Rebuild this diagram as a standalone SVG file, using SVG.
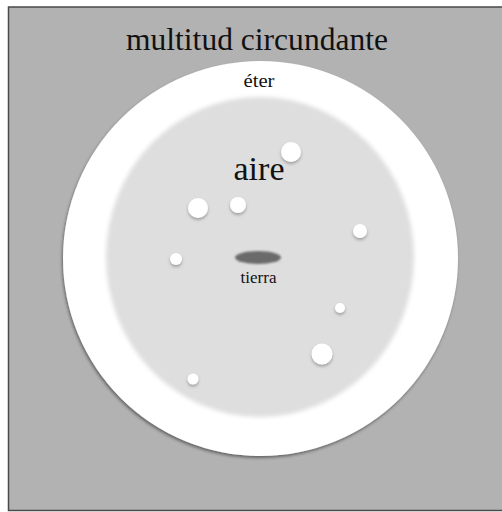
<svg xmlns="http://www.w3.org/2000/svg" width="502" height="512" viewBox="0 0 502 512">
  <defs>
    <filter id="outerShadow" x="-10%" y="-10%" width="120%" height="120%">
      <feDropShadow dx="-1" dy="2" stdDeviation="1.5" flood-color="#333" flood-opacity="0.6"/>
    </filter>
    <filter id="softEdge" x="-10%" y="-10%" width="120%" height="120%">
      <feGaussianBlur stdDeviation="2"/>
    </filter>
    <filter id="blobShadow" x="-50%" y="-50%" width="200%" height="200%">
      <feGaussianBlur in="SourceGraphic" stdDeviation="0.6" result="b"/>
      <feDropShadow in="b" dx="0" dy="2" stdDeviation="1.5" flood-color="#555" flood-opacity="0.45"/>
    </filter>
    <filter id="earthBlur" x="-20%" y="-50%" width="140%" height="200%">
      <feGaussianBlur stdDeviation="1.2"/>
    </filter>
  </defs>
  <style>
    text { font-family: "Liberation Serif", serif; fill: #111; text-anchor: middle; }
    .blob { fill: #ffffff; filter: url(#blobShadow); }
  </style>

  <rect x="0" y="0" width="502" height="512" fill="#ffffff"/>
  <g id="frame">
    <rect x="8.5" y="7" width="500" height="503.5" fill="#b2b2b2" stroke="#4a4a4a" stroke-width="1.5"/>
  </g>

  <g id="multitud">
    <text x="257" y="50" font-size="31" textLength="262" lengthAdjust="spacingAndGlyphs">multitud circundante</text>
  </g>

  <g id="eter">
    <circle cx="260.5" cy="258.5" r="197.5" fill="#ffffff" filter="url(#outerShadow)"/>
    <text x="259" y="86.5" font-size="18" textLength="31" lengthAdjust="spacingAndGlyphs">éter</text>
  </g>

  <g id="aire">
    <ellipse cx="260" cy="257" rx="154" ry="160" fill="#dedede" filter="url(#softEdge)"/>
    <text x="259" y="180" font-size="34">aire</text>
  </g>

  <g id="particulas">
    <circle class="blob" cx="291" cy="152" r="10"/>
    <circle class="blob" cx="198" cy="208" r="10"/>
    <circle class="blob" cx="238" cy="205" r="8"/>
    <circle class="blob" cx="360" cy="231" r="7"/>
    <circle class="blob" cx="176" cy="259" r="6"/>
    <circle class="blob" cx="340" cy="308" r="5"/>
    <circle class="blob" cx="322" cy="354" r="10.5"/>
    <circle class="blob" cx="193" cy="379" r="5.5"/>
  </g>

  <g id="tierra">
    <ellipse cx="258" cy="257.5" rx="23" ry="6.5" fill="#6b6b6b" filter="url(#earthBlur)"/>
    <text x="258.5" y="282.5" font-size="17">tierra</text>
  </g>

  <g id="connectors"/>
</svg>
